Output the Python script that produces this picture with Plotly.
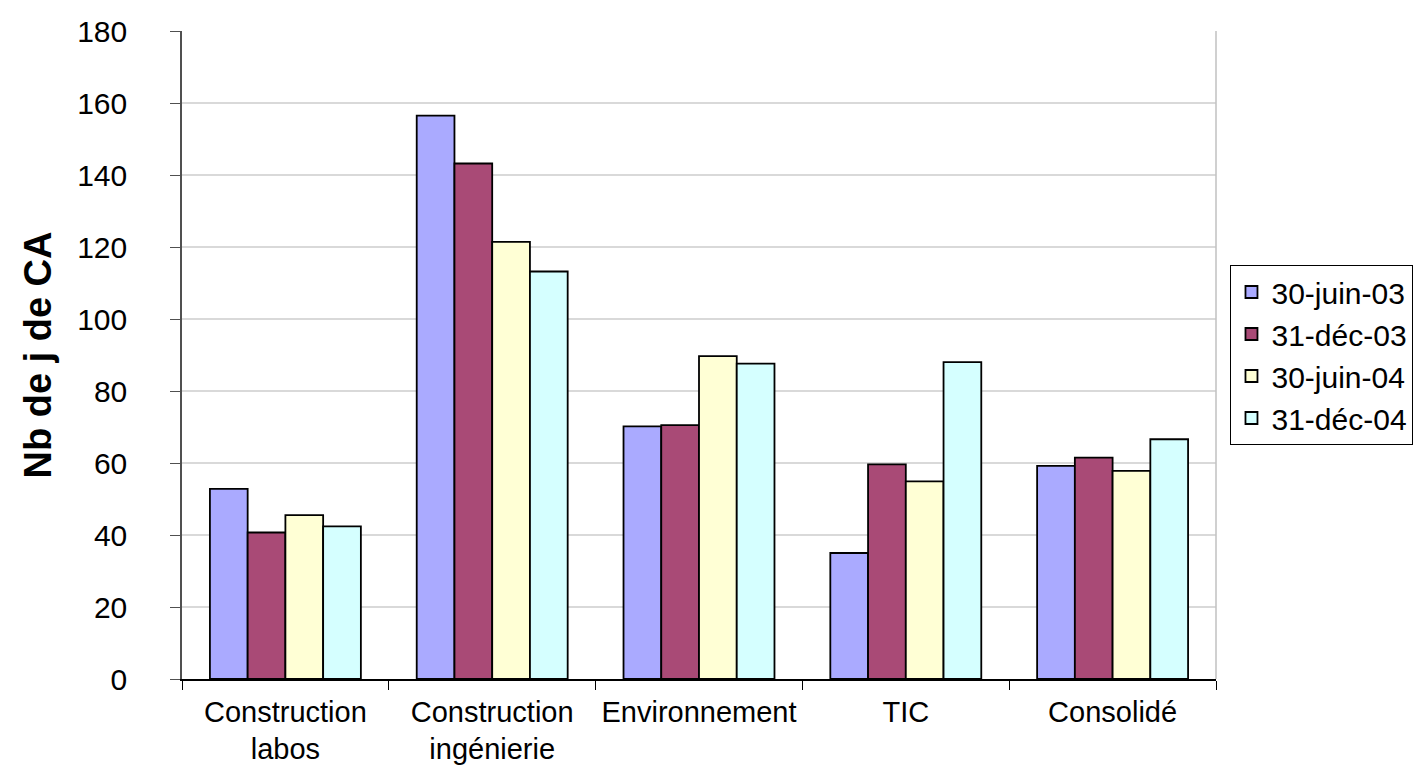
import plotly.graph_objects as go

categories = ["Construction<br>labos", "Construction<br>ingénierie", "Environnement", "TIC", "Consolidé"]
series_names = ["30-juin-03", "31-déc-03", "30-juin-04", "31-déc-04"]
v_juin03 = [52.8, 156.5, 70.2, 35.0, 59.2]
v_dec03 = [40.7, 143.2, 70.5, 59.6, 61.5]
v_juin04 = [45.5, 121.4, 89.7, 54.9, 57.8]
v_dec04 = [42.4, 113.2, 87.6, 88.0, 66.6]
y_ticks = [0, 20, 40, 60, 80, 100, 120, 140, 160, 180]

colors = ["#AAAAFF", "#A94A76", "#FFFFD5", "#D5FFFF"]
values = [v_juin03, v_dec03, v_juin04, v_dec04]

fig = go.Figure()
for name, vals, col in zip(series_names, values, colors):
    fig.add_trace(go.Bar(
        x=categories, y=vals, name=name,
        marker=dict(color=col, line=dict(color="#000000", width=1.8)),
    ))

font_family = "Liberation Sans, Arial, sans-serif"
fig.update_layout(
    width=1413, height=758,
    margin=dict(l=174, r=205, t=23, b=87, autoexpand=False),
    paper_bgcolor="white", plot_bgcolor="white",
    barmode="group", bargap=0.27, bargroupgap=0,
    font=dict(family=font_family, size=29, color="#000000"),
    showlegend=True,
    legend=dict(
        x=1.014, xanchor="left", y=0.5, yanchor="middle",
        bordercolor="#000000", borderwidth=1,
        font=dict(size=30), tracegroupgap=0,
        itemwidth=30,
    ),
    xaxis=dict(
        automargin=False,
        showline=True, linecolor="#000000", linewidth=1.5,
        ticks="outside", ticklen=9, tickcolor="#000000",
        tickson="boundaries", showgrid=False,
        tickfont=dict(size=29),
        ticklabelstandoff=6,
    ),
    yaxis=dict(
        automargin=False,
        range=[0, 180], tickvals=y_ticks,
        showline=True, linecolor="#505050", linewidth=1.5,
        ticks="outside", ticklen=10, tickcolor="#505050",
        showgrid=True, gridcolor="#D9D9D9", gridwidth=1.5,
        tickfont=dict(size=30),
        ticklabelstandoff=37,
        zeroline=False,
        title=dict(text="<b>Nb de j de CA</b>", font=dict(size=38), standoff=14),
    ),
    shapes=[dict(type="line", xref="paper", yref="paper", x0=1, x1=1, y0=0, y1=1,
                 line=dict(color="#C0C0C0", width=1.5))],
)

fig.write_html("out.html")
